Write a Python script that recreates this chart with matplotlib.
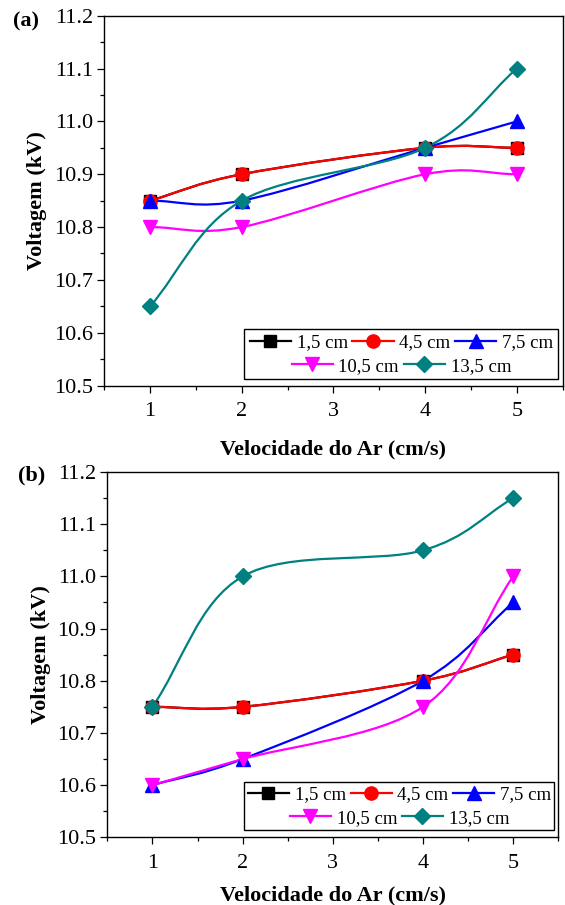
import numpy as np
import matplotlib
matplotlib.use('Agg')
import matplotlib.pyplot as plt
from matplotlib.path import Path
from matplotlib.patches import PathPatch, Rectangle
from matplotlib.lines import Line2D
from matplotlib.ticker import MultipleLocator

plt.rcParams['font.family'] = ['Liberation Serif', 'DejaVu Serif']

# velocidade do ar (cm/s)
velocidade = [1, 2, 4, 5]
distancias = ['1,5 cm', '4,5 cm', '7,5 cm', '10,5 cm', '13,5 cm']

# painel (a) - voltagem (kV)
a_15 = [10.85, 10.90, 10.95, 10.95]
a_45 = [10.85, 10.90, 10.95, 10.95]
a_75 = [10.85, 10.85, 10.95, 11.00]
a_105 = [10.80, 10.80, 10.90, 10.90]
a_135 = [10.65, 10.85, 10.95, 11.10]

# painel (b) - voltagem (kV)
b_15 = [10.75, 10.75, 10.80, 10.85]
b_45 = [10.75, 10.75, 10.80, 10.85]
b_75 = [10.60, 10.65, 10.80, 10.95]
b_105 = [10.60, 10.65, 10.75, 11.00]
b_135 = [10.75, 11.00, 11.05, 11.15]

y_ticks = [10.5, 10.6, 10.7, 10.8, 10.9, 11.0, 11.1, 11.2]
x_ticks = [1, 2, 3, 4, 5]

cores = ['black', '#FF0000', '#0000FF', '#FF00FF', '#008080']
marcadores = ['s', 'o', '^', 'v', 'D']
tamanhos = [8.5, 9.5, 9.5, 9.5, 8.5]


def spline_path(x, y):
    '''
    curva suave passando pelos pontos (Catmull-Rom) como path de Bezier
    '''
    P = np.column_stack([x, y]).astype(float)
    n = len(P)
    T = np.zeros_like(P)
    T[0] = P[1] - P[0]
    T[-1] = P[-1] - P[-2]
    for i in range(1, n - 1):
        T[i] = (P[i + 1] - P[i - 1]) / 2
    verts = [tuple(P[0])]
    codes = [Path.MOVETO]
    for i in range(n - 1):
        verts += [tuple(P[i] + T[i] / 3), tuple(P[i + 1] - T[i + 1] / 3),
                  tuple(P[i + 1])]
        codes += [Path.CURVE4] * 3
    return Path(verts, codes)


def painel(fig, rect, series, letra, pos_letra, ylab_x, xlab_y):
    ax = fig.add_axes(rect)
    for vals, cor, mk, ms in zip(series, cores, marcadores, tamanhos):
        ax.add_patch(PathPatch(spline_path(velocidade, vals), fill=False,
                               edgecolor=cor, lw=1.6))
        ax.plot(velocidade, vals, ls='none', marker=mk, ms=ms, color=cor)

    ax.set_xlim(0.5, 5.5)
    ax.set_ylim(10.5, 11.2)
    ax.set_xticks(x_ticks)
    ax.set_yticks(y_ticks)
    ax.set_yticklabels(['%.1f' % v for v in y_ticks])
    ax.xaxis.set_minor_locator(MultipleLocator(0.5))
    ax.yaxis.set_minor_locator(MultipleLocator(0.05))
    ax.tick_params(which='major', direction='out', length=5, width=0.9,
                   labelsize=16, pad=3)
    ax.tick_params(which='minor', direction='out', length=3, width=0.9)
    ax.tick_params(axis='x', which='major', pad=7)
    for s in ax.spines.values():
        s.set_linewidth(1.0)

    ax.set_ylabel('Voltagem (kV)', fontsize=16, fontweight='bold')
    ax.set_xlabel('Velocidade do Ar (cm/s)', fontsize=16, fontweight='bold')
    ax.yaxis.set_label_coords(ylab_x, 0.5)
    ax.xaxis.set_label_coords(0.5, xlab_y)

    # legenda em duas linhas, dentro de uma moldura
    hs = [Line2D([], [], color=c, marker=m, ms=ms, lw=1.6)
          for c, m, ms in zip(cores, marcadores, tamanhos)]
    kw = dict(loc='center', frameon=False, fontsize=13.5, handlelength=2.2,
              handletextpad=0.3, columnspacing=0.25, borderpad=0, borderaxespad=0)
    leg1 = ax.legend(hs[:3], distancias[:3], ncol=3,
                     bbox_to_anchor=(0.648, 0.116), **kw)
    ax.add_artist(leg1)
    ax.legend(hs[3:], distancias[3:], ncol=2,
              bbox_to_anchor=(0.648, 0.052), **kw)
    ax.add_patch(Rectangle((0.304, 0.019), 0.686, 0.133, transform=ax.transAxes,
                           fill=False, edgecolor='black', lw=1.0, zorder=5))

    fig.text(pos_letra[0], pos_letra[1], letra, fontsize=16, fontweight='bold',
             ha='left', va='center')
    return ax


fig = plt.figure(figsize=(5.65, 9.05), dpi=100)
painel(fig, [0.1846, 0.574, 0.8113, 0.4086],
       [a_15, a_45, a_75, a_105, a_135], '(a)', (13 / 565, 1 - 21.7 / 905),
       -0.124, -0.145)
painel(fig, [0.190, 0.0748, 0.798, 0.4036],
       [b_15, b_45, b_75, b_105, b_135], '(b)', (18 / 565, 1 - 475 / 905),
       -0.125, -0.133)

fig.savefig('out.png', dpi=100)
